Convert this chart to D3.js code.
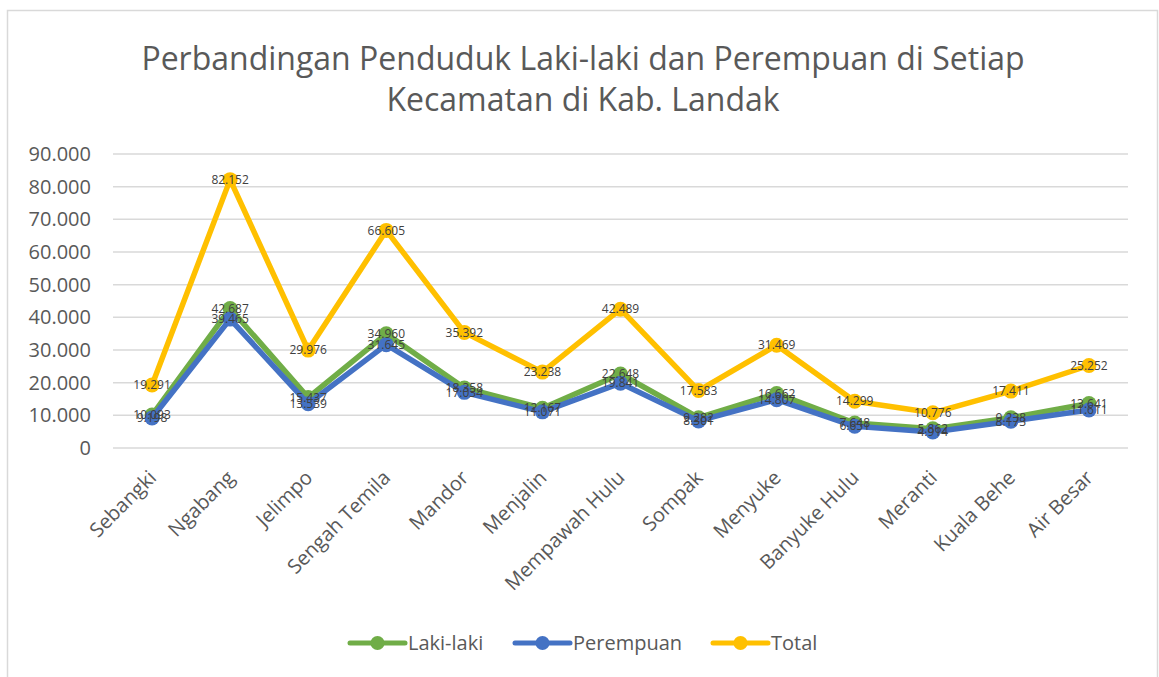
<!DOCTYPE html>
<html>
<head>
<meta charset="utf-8">
<script src="https://cdn.jsdelivr.net/npm/d3@7"></script>
<style>
  html, body { margin: 0; padding: 0; background: #fff; }
  svg { display: block; font-family: "Open Sans", sans-serif; }
</style>
</head>
<body>
<div id="chart"></div>
<script>
// Penduduk per kecamatan, Kab. Landak
const kecamatan = ["Sebangki", "Ngabang", "Jelimpo", "Sengah Temila", "Mandor", "Menjalin",
    "Mempawah Hulu", "Sompak", "Menyuke", "Banyuke Hulu", "Meranti", "Kuala Behe", "Air Besar"];
const lakiLaki = [10093, 42687, 15437, 34960, 18358, 12167, 22648, 9282, 16662, 7648, 5862, 9238, 13641];
const perempuan = [9198, 39465, 13539, 31645, 17034, 11071, 19841, 8301, 14807, 6651, 4914, 8173, 11611];
const total = [19291, 82152, 29976, 66605, 35392, 23238, 42489, 17583, 31469, 14299, 10776, 17411, 25252];
const yTicks = [0, 10000, 20000, 30000, 40000, 50000, 60000, 70000, 80000, 90000];

const seriesList = [
    { name: "Laki-laki", values: lakiLaki, color: "#70AD47" },
    { name: "Perempuan", values: perempuan, color: "#4472C4" },
    { name: "Total", values: total, color: "#FFC000" }
];

const width = 1159, height = 677;
const margin = { left: 113, right: 31, top: 154, bottom: 229 };

const svg = d3.select("#chart").append("svg")
    .attr("width", width)
    .attr("height", height);

// chart frame
svg.append("rect")
    .attr("x", 7.5).attr("y", 10.5)
    .attr("width", 1150).attr("height", 680)
    .attr("fill", "#fff")
    .attr("stroke", "#d9d9d9")
    .attr("stroke-width", 1.5);

// -- Title --
const title = svg.append("text")
    .attr("text-anchor", "middle")
    .attr("fill", "#595959")
    .style("font-size", "32px");
title.append("tspan").attr("x", 583).attr("y", 70).text("Perbandingan Penduduk Laki-laki dan Perempuan di Setiap");
title.append("tspan").attr("x", 583).attr("y", 111).text("Kecamatan di Kab. Landak");

const x = d3.scalePoint()
    .domain(kecamatan)
    .range([margin.left, width - margin.right])
    .padding(0.5);

const y = d3.scaleLinear()
    .domain([0, 90000])
    .range([height - margin.bottom, margin.top]);

const fmt = v => d3.format(",")(v).replace(/,/g, ".");

// gridlines
svg.append("g")
    .selectAll("line")
    .data(yTicks)
    .join("line")
    .attr("x1", margin.left).attr("x2", width - margin.right)
    .attr("y1", d => y(d)).attr("y2", d => y(d))
    .attr("stroke", "#d9d9d9")
    .attr("stroke-width", 1.5);

// y axis labels
const yAxis = d3.axisLeft(y).tickValues(yTicks).tickSize(0).tickPadding(0).tickFormat(fmt);
svg.append("g")
    .attr("transform", `translate(${margin.left - 22},0)`)
    .call(yAxis)
    .call(g => g.select(".domain").remove())
    .selectAll("text")
    .attr("fill", "#595959")
    .style("font-size", "20px")
    .style("font-family", "Open Sans, sans-serif");

// x axis labels (rotated)
const xAxis = d3.axisBottom(x).tickSize(0).tickPadding(0);
svg.append("g")
    .attr("transform", `translate(0,${y(0)})`)
    .call(xAxis)
    .call(g => g.select(".domain").remove())
    .selectAll("text")
    .attr("fill", "#595959")
    .style("font-size", "20px")
    .style("font-family", "Open Sans, sans-serif")
    .attr("text-anchor", "end")
    .attr("dy", "0.35em")
    .attr("transform", "translate(0,26) rotate(-45)");

// lines + markers
const line = d3.line()
    .x((d, i) => x(kecamatan[i]))
    .y(d => y(d));

seriesList.forEach(s => {
    const g = svg.append("g");
    g.append("path")
        .datum(s.values)
        .attr("fill", "none")
        .attr("stroke", s.color)
        .attr("stroke-width", 5.5)
        .attr("stroke-linejoin", "round")
        .attr("d", line);
    g.selectAll("circle")
        .data(s.values)
        .join("circle")
        .attr("cx", (d, i) => x(kecamatan[i]))
        .attr("cy", d => y(d))
        .attr("r", 7.5)
        .attr("fill", s.color);
});

// data labels (centered on points)
seriesList.forEach(s => {
    svg.append("g")
        .selectAll("text")
        .data(s.values)
        .join("text")
        .attr("x", (d, i) => x(kecamatan[i]))
        .attr("y", d => y(d))
        .attr("dy", "0.35em")
        .attr("text-anchor", "middle")
        .attr("fill", "#404040")
        .style("font-size", "12px")
        .text(d => fmt(d));
});

// -- Legend --
const legendX = [350, 515, 713];
const legend = svg.append("g")
    .selectAll("g")
    .data(seriesList)
    .join("g")
    .attr("transform", (d, i) => `translate(${legendX[i]},643)`);

legend.append("line")
    .attr("x1", 0).attr("x2", 55)
    .attr("stroke", d => d.color)
    .attr("stroke-width", 5)
    .attr("stroke-linecap", "round");
legend.append("circle")
    .attr("cx", 27.5).attr("r", 7)
    .attr("fill", d => d.color);
legend.append("text")
    .attr("x", 58)
    .attr("dy", "0.35em")
    .attr("fill", "#595959")
    .style("font-size", "20px")
    .text(d => d.name);
</script>
</body>
</html>
